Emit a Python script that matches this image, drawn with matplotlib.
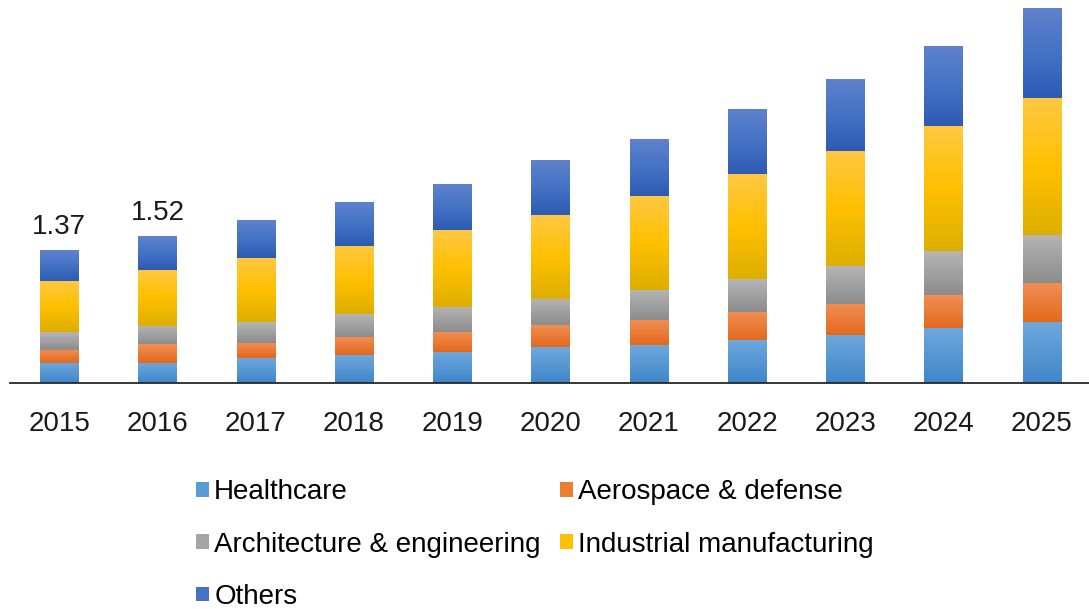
import numpy as np
import matplotlib
matplotlib.use("Agg")
import matplotlib.pyplot as plt
from matplotlib.colors import LinearSegmentedColormap
from matplotlib.patches import Patch

plt.rcParams['font.family'] = ['Liberation Sans', 'DejaVu Sans']

years = ["2015", "2016", "2017", "2018", "2019", "2020", "2021", "2022", "2023", "2024", "2025"]
healthcare = [0.21, 0.21, 0.26, 0.29, 0.32, 0.37, 0.39, 0.45, 0.50, 0.57, 0.63]
aerospace = [0.135, 0.19, 0.16, 0.19, 0.21, 0.23, 0.26, 0.29, 0.32, 0.34, 0.40]
architecture = [0.18, 0.19, 0.21, 0.23, 0.26, 0.27, 0.31, 0.34, 0.39, 0.45, 0.50]
industrial = [0.53, 0.58, 0.66, 0.71, 0.79, 0.86, 0.97, 1.08, 1.18, 1.29, 1.41]
others = [0.315, 0.35, 0.39, 0.45, 0.47, 0.56, 0.58, 0.66, 0.74, 0.82, 0.92]
shown_totals = ["1.37", "1.52"]

series = [
    ("Healthcare", healthcare, "#5B9BD5", ["#3F86C9", "#6FA8DE"]),
    ("Aerospace & defense", aerospace, "#ED7D31", ["#E2691C", "#F28F55"]),
    ("Architecture & engineering", architecture, "#A5A5A5", ["#8C8C8C", "#B5B5B5"]),
    ("Industrial manufacturing", industrial, "#FFC000", ["#DDAE00", "#FFC000", "#FFC843"]),
    ("Others", others, "#4472C4", ["#2D5BB4", "#4472C4", "#5F82CD"]),
]

fig = plt.figure(figsize=(10.89, 6.09), dpi=100)
ax = fig.add_axes([10 / 1089, (609 - 383.3) / 609, 1081 / 1089, 383.3 / 609])

x = np.arange(len(years))
width = 0.39
bottom = np.zeros(len(years))
grad = np.linspace(0, 1, 256).reshape(-1, 1)
for name, vals, color, stops in series:
    bars = ax.bar(x, vals, width, bottom=bottom, color=color, edgecolor="none", zorder=1)
    cmap = LinearSegmentedColormap.from_list(name, stops)
    for b in bars:
        x0, y0 = b.get_x(), b.get_y()
        ax.imshow(grad, cmap=cmap, aspect="auto", origin="lower",
                  extent=(x0, x0 + b.get_width(), y0, y0 + b.get_height()), zorder=2)
    bottom += np.array(vals)

totals = bottom
for i, lab in enumerate(shown_totals):
    ax.annotate(lab, (x[i], totals[i]), xytext=(0, 10), textcoords="offset pixels",
                ha="center", va="bottom", fontsize=20, color="#1a1a1a")

ax.set_xlim(-0.5, len(years) - 0.5)
ax.set_ylim(0, 383.3 / 97)
ax.set_xticks(x)
ax.set_xticklabels(years, fontsize=20, color="#1a1a1a")
ax.tick_params(axis="x", length=0, pad=20)
ax.set_yticks([])
for s in ["top", "right", "left"]:
    ax.spines[s].set_visible(False)
ax.spines["bottom"].set_color("#262626")
ax.spines["bottom"].set_linewidth(1.3)
ax.spines["bottom"].set_zorder(5)

# legend fills column-wise, so reorder to read row by row
handles = [Patch(facecolor=c, edgecolor="none", label=n) for n, _, c, _ in series]
handles = [handles[i] for i in (0, 2, 4, 1, 3)]
fig.legend(handles=handles, ncol=2, loc="upper left", bbox_to_anchor=(185 / 1089, 1 - 468 / 609),
           frameon=False, fontsize=20, handlelength=0.45, handleheight=0.45,
           handletextpad=0.2, columnspacing=0.7, labelspacing=0.95, borderaxespad=0)

fig.savefig("out.png", dpi=100)
